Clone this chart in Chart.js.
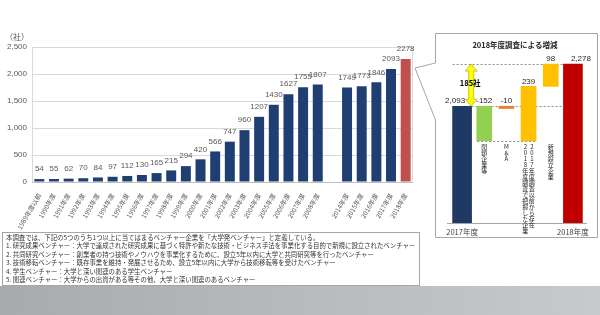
<!DOCTYPE html>
<html>
<head>
<meta charset="utf-8">
<script src="https://cdn.jsdelivr.net/npm/chart.js@4.4.1/dist/chart.umd.min.js"></script>
<style>
html, body { margin: 0; padding: 0; background: #fff; }
body { width: 600px; height: 315px; position: relative; overflow: hidden; font-family: "Noto Sans CJK JP", sans-serif; }
#main { position: absolute; left: 0; top: 0; }
#wf { position: absolute; left: 410px; top: 28px; }
#note { position: absolute; left: 2px; top: 232px; width: 418px; height: 54px; border: 1px solid #a6a6a6; box-sizing: border-box;
        font-size: 6.4px; line-height: 8.4px; color: #333; padding: 1px 3px; white-space: nowrap; }
#band { position: absolute; left: 0; top: 286px; width: 600px; height: 29px; background: linear-gradient(to right, #a8aaae, #c7c9cc); }
</style>
</head>
<body>
<canvas id="main" width="430" height="232"></canvas>
<canvas id="wf" width="190" height="214"></canvas>
<div id="note">
本調査では、下記の5つのうち1つ以上に当てはまるベンチャー企業を「大学発ベンチャー」と定義している。<br>
1. 研究成果ベンチャー：大学で達成された研究成果に基づく特許や新たな技術・ビジネス手法を事業化する目的で新規に設立されたベンチャー<br>
2. 共同研究ベンチャー：創業者の持つ技術やノウハウを事業化するために、設立5年以内に大学と共同研究等を行ったベンチャー<br>
3. 技術移転ベンチャー：既存事業を維持・発展させるため、設立5年以内に大学から技術移転等を受けたベンチャー<br>
4. 学生ベンチャー：大学と深い関連のある学生ベンチャー<br>
5. 関連ベンチャー：大学からの出資がある等その他、大学と深い関連のあるベンチャー
</div>
<div id="band"></div>
<script>
// main chart data
const years = ['1989年度以前', '1990年度', '1991年度', '1992年度', '1993年度', '1994年度', '1995年度', '1996年度',
    '1997年度', '1998年度', '1999年度', '2000年度', '2001年度', '2002年度', '2003年度', '2004年度', '2005年度',
    '2006年度', '2007年度', '2008年度', '', '2014年度', '2015年度', '2016年度', '2017年度', '2018年度'];
const counts = [54, 55, 62, 70, 84, 97, 112, 130, 165, 215, 294, 420, 566, 747, 960, 1207, 1430, 1627, 1755, 1807,
    null, 1749, 1773, 1846, 2093, 2278];
const yTicks = [0, 500, 1000, 1500, 2000, 2500];
const unitLabel = '（社）';

// waterfall data
const wfTitle = '2018年度調査による増減';
const wfLabels = ['2017年度', '閉鎖企業等', 'M＆A', ['2017年度調査以前から存在', '2018年度調査で把握した企業'], '新規設立企業', '2018年度'];
const wfTotals = [2093, null, null, null, null, 2278];
const wfChanges = [null, -152, -10, 239, 98, null];
const wfValueLabels = ['2,093', '-152', '-10', '239', '98', '2,278'];
const wfGapLabel = '185社';

const navy = '#1f3f73';
const grey = '#595959';

const mainLabels = {
    id: 'mainLabels',
    afterDatasetsDraw(chart) {
        const ctx = chart.ctx;
        const area = chart.chartArea;
        ctx.save();
        // plot frame
        ctx.strokeStyle = '#d9d9d9';
        ctx.lineWidth = 1;
        ctx.strokeRect(area.left + 0.5, area.top + 0.5, area.right - area.left - 1, area.bottom - area.top);
        ctx.strokeStyle = '#bfbfbf';
        ctx.beginPath();
        ctx.moveTo(area.left, area.bottom + 0.5);
        ctx.lineTo(area.right, area.bottom + 0.5);
        ctx.stroke();
        // values
        ctx.fillStyle = grey;
        ctx.font = '8px "Liberation Sans", sans-serif';
        ctx.textAlign = 'center';
        ctx.textBaseline = 'middle';
        chart.getDatasetMeta(0).data.forEach((el, i) => {
            if (counts[i] == null) return;
            ctx.fillText(String(counts[i]), el.x, el.y - 10);
        });
        // unit
        ctx.font = '8px "Noto Sans CJK JP", sans-serif';
        ctx.fillText(unitLabel, 17, 37);
        ctx.restore();
    }
};

new Chart(document.getElementById('main'), {
    type: 'bar',
    data: {
        labels: years,
        datasets: [{
            data: counts,
            backgroundColor: counts.map((v, i) => i === counts.length - 1 ? '#c0504d' : navy),
            categoryPercentage: 1,
            barPercentage: 0.68
        }]
    },
    options: {
        responsive: false,
        animation: false,
        layout: { padding: { top: 47, right: 17, left: 0, bottom: 0 } },
        plugins: { legend: { display: false }, tooltip: { enabled: false } },
        scales: {
            x: {
                grid: { display: false },
                border: { display: false },
                ticks: {
                    autoSkip: false, minRotation: 60, maxRotation: 60, padding: 2,
                    color: grey, font: { family: '"Noto Sans CJK JP"', size: 6.5 }
                },
                afterFit: s => { s.height = 50; }
            },
            y: {
                min: 0, max: 2500,
                afterBuildTicks: s => { s.ticks = yTicks.map(v => ({ value: v })); },
                grid: { color: '#d9d9d9', drawTicks: false },
                border: { display: false },
                ticks: {
                    padding: 5, color: grey, font: { family: '"Liberation Sans"', size: 8 },
                    callback: v => v.toLocaleString('en-US')
                },
                afterFit: s => { s.width = 32; }
            }
        }
    },
    plugins: [mainLabels]
});

// floating ranges for the waterfall
const start = wfTotals[0];
let low = start;
const changeRanges = wfChanges.map(v => {
    if (v == null) return null;
    if (v < 0) { low = Math.min(low, start + v); return [start + v, start]; }
    const r = [low, low + v];
    low += v;
    return r;
});
const wfMin = 1580, wfMax = 2340;
const totalRanges = wfTotals.map(v => v == null ? null : [wfMin, v]);
const lowest = Math.min(...changeRanges.filter(r => r).map(r => r[0]));

function vertText(ctx, text, x, y, step) {
    [...text].forEach((c, k) => ctx.fillText(c, x, y + k * step));
}

const wfDecor = {
    id: 'wfDecor',
    beforeDatasetsDraw(chart) {
        const ctx = chart.ctx;
        const area = chart.chartArea;
        const ys = chart.scales.y;
        const tot = chart.getDatasetMeta(0).data;
        const chg = chart.getDatasetMeta(1).data;
        ctx.save();
        // frame with callout notch
        ctx.strokeStyle = '#a6a6a6';
        ctx.lineWidth = 1;
        ctx.beginPath();
        ctx.moveTo(25.5, 35);
        ctx.lineTo(25.5, 5.5);
        ctx.lineTo(187.5, 5.5);
        ctx.lineTo(187.5, 209.5);
        ctx.lineTo(25.5, 209.5);
        ctx.lineTo(25.5, 92);
        ctx.lineTo(5, 40);
        ctx.lineTo(25.5, 35);
        ctx.stroke();
        // baseline
        ctx.beginPath();
        ctx.moveTo(area.left - 4, area.bottom + 0.5);
        ctx.lineTo(area.right + 3, area.bottom + 0.5);
        ctx.stroke();
        // dotted guides
        ctx.strokeStyle = '#8c8c8c';
        ctx.setLineDash([2, 2]);
        const hw = 9.5;
        const g = (y, x1, x2) => { ctx.beginPath(); ctx.moveTo(x1, Math.round(y) + 0.5); ctx.lineTo(x2, Math.round(y) + 0.5); ctx.stroke(); };
        g(ys.getPixelForValue(wfTotals[5]), tot[0].x - hw, tot[5].x - hw);
        g(ys.getPixelForValue(start), tot[0].x + hw, tot[5].x - hw);
        g(ys.getPixelForValue(lowest), chg[1].x - 7, chg[3].x + 8);
        ctx.setLineDash([]);
        ctx.restore();
    },
    afterDatasetsDraw(chart) {
        const ctx = chart.ctx;
        const area = chart.chartArea;
        const ys = chart.scales.y;
        const tot = chart.getDatasetMeta(0).data;
        const chg = chart.getDatasetMeta(1).data;
        ctx.save();
        // title
        ctx.fillStyle = '#262626';
        ctx.textAlign = 'center';
        ctx.textBaseline = 'middle';
        ctx.font = 'bold 7.5px "Noto Sans CJK JP", sans-serif';
        ctx.fillText(wfTitle, 105, 17);
        // double arrow for the gap
        const ax = (tot[0].x + chg[1].x) / 2 - 2;
        const yTop = ys.getPixelForValue(wfTotals[5]);
        const yBot = ys.getPixelForValue(start);
        ctx.fillStyle = '#ffff00';
        ctx.strokeStyle = '#a0a000';
        ctx.lineWidth = 0.6;
        ctx.beginPath();
        ctx.moveTo(ax, yTop);
        ctx.lineTo(ax + 6, yTop + 7);
        ctx.lineTo(ax + 2.5, yTop + 7);
        ctx.lineTo(ax + 2.5, yBot - 7);
        ctx.lineTo(ax + 6, yBot - 7);
        ctx.lineTo(ax, yBot);
        ctx.lineTo(ax - 6, yBot - 7);
        ctx.lineTo(ax - 2.5, yBot - 7);
        ctx.lineTo(ax - 2.5, yTop + 7);
        ctx.lineTo(ax - 6, yTop + 7);
        ctx.closePath();
        ctx.fill();
        ctx.stroke();
        ctx.fillStyle = '#000';
        ctx.font = 'bold 7.5px "Noto Sans CJK JP", sans-serif';
        ctx.fillText(wfGapLabel, ax - 1, (yTop + yBot) / 2 - 2);
        // value labels
        ctx.fillStyle = '#262626';
        ctx.font = '8px "Liberation Sans", sans-serif';
        wfValueLabels.forEach((t, i) => {
            const el = wfTotals[i] != null ? tot[i] : chg[i];
            const top = wfTotals[i] != null ? el.y : ys.getPixelForValue(changeRanges[i][1]);
            const dx = i === 0 ? -7 : (i === 5 ? 8 : 0);
            ctx.fillText(t, el.x + dx, top - 5);
        });
        // vertical category labels, first line in the right-hand column
        ctx.font = '6px "Noto Sans CJK JP", sans-serif';
        ctx.fillStyle = '#262626';
        const ly = ys.getPixelForValue(lowest) + 6;
        wfLabels.forEach((lab, i) => {
            if (wfChanges[i] == null) return;
            const cols = Array.isArray(lab) ? lab : [lab];
            const n = cols.length;
            cols.forEach((c, k) => vertText(ctx, c, chg[i].x + ((n - 1) / 2 - k) * 6.5, ly, 6));
        });
        // total labels under axis
        ctx.font = '7.5px "Noto Sans CJK JP", sans-serif';
        ctx.fillStyle = '#404040';
        [0, 5].forEach(i => ctx.fillText(wfLabels[i], tot[i].x, area.bottom + 9));
        ctx.restore();
    }
};

new Chart(document.getElementById('wf'), {
    type: 'bar',
    data: {
        labels: wfLabels,
        datasets: [
            {
                data: totalRanges,
                backgroundColor: ['#1f3864', null, null, null, null, '#c00000'],
                barThickness: 19,
                grouped: false
            },
            {
                data: changeRanges,
                backgroundColor: [null, '#92d050', '#ed7d31', '#ffc000', '#ffc000', null],
                barThickness: 15,
                grouped: false
            }
        ]
    },
    options: {
        responsive: false,
        animation: false,
        layout: { padding: { top: 22, left: 41, right: 16, bottom: 19 } },
        plugins: { legend: { display: false }, tooltip: { enabled: false } },
        scales: {
            x: { display: false },
            y: { display: false, min: wfMin, max: wfMax }
        }
    },
    plugins: [wfDecor]
});
</script>
</body>
</html>
